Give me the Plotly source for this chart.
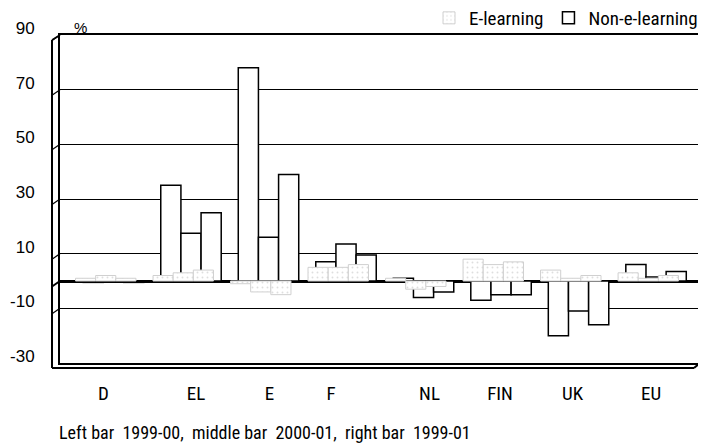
import plotly.graph_objects as go

categories = ["D", "EL", "E", "F", "NL", "FIN", "UK", "EU"]
years = ["1999-00", "2000-01", "1999-01"]

# Non-e-learning (back row)
non_el_1999_00 = [-0.5, 35, 78, 7, 1, -7, -20, 6]
non_el_2000_01 = [0.5, 17.5, 16, 13.5, -6, -5, -11, 1.5]
non_el_1999_01 = [-0.5, 25, 39, 9.5, -4, -5, -16, 3.5]

# E-learning (front row)
el_1999_00 = [1, 2, -1, 5, 1, 8, 4, 3]
el_2000_01 = [2, 3, -4, 5, -3, 6, 1, 1]
el_1999_01 = [1, 4, -5, 6, -2, 7, 2, 2]

y_ticks = [-30, -10, 10, 30, 50, 70, 90]
y_tick_labels = [str(v) for v in y_ticks]

NARROW = "Roboto Condensed, Liberation Sans Narrow, Arial Narrow, sans-serif"
REGULAR = "Liberation Sans, Arial, sans-serif"

fig = go.Figure()

bw = 0.26
back_offsets = [-0.39, -0.13, 0.13]
front_offsets = [o - 0.1 for o in back_offsets]

for j, vals in enumerate([non_el_1999_00, non_el_2000_01, non_el_1999_01]):
    fig.add_trace(go.Bar(
        x=categories, y=vals, name="Non-e-learning", legendgroup="non",
        showlegend=(j == 0), legendrank=2,
        offset=back_offsets[j], width=bw,
        marker=dict(color="white", line=dict(color="black", width=1.5)),
        hovertext=years[j],
    ))

for j, vals in enumerate([el_1999_00, el_2000_01, el_1999_01]):
    fig.add_trace(go.Bar(
        x=categories, y=vals, name="E-learning", legendgroup="el",
        showlegend=(j == 0), legendrank=1,
        offset=front_offsets[j], width=bw,
        marker=dict(color="white",
                    line=dict(color="#d0d0d0", width=1),
                    pattern=dict(shape=".", fgcolor="#bdbdbd", bgcolor="white",
                                 size=5, solidity=0.12)),
        hovertext=years[j],
    ))

# Page has an 8px body margin: the plot area lands at 60..700 x 35..363 px on screen.
def px2x(px):
    return (px - 60) / 640.0

def py2y(py):
    return (363 - py) / 328.0

shapes = []
line_k = dict(color="black", width=2)
# front left axis edge of the 3D box
shapes.append(dict(type="line", xref="paper", yref="paper",
                   x0=px2x(52), y0=py2y(40), x1=px2x(52), y1=py2y(368), line=line_k))
shapes.append(dict(type="line", xref="paper", yref="paper",
                   x0=px2x(52), y0=py2y(40), x1=px2x(60), y1=py2y(35),
                   line=dict(color="black", width=1.5)))
# front floor edge
shapes.append(dict(type="line", xref="paper", yref="paper",
                   x0=px2x(52), y0=py2y(368), x1=px2x(694), y1=py2y(368), line=line_k))
shapes.append(dict(type="line", xref="paper", yref="paper",
                   x0=px2x(694), y0=py2y(368), x1=px2x(700), y1=py2y(363), line=line_k))
# small diagonals on the side wall at each gridline
for t in y_ticks[1:] + [0]:
    shapes.append(dict(type="line", xref="paper", yref="y",
                       x0=px2x(52), y0=t - 2, x1=px2x(60), y1=t,
                       line=dict(color="black", width=1.2 if t else 2)))
fig.update_layout(shapes=shapes)

# category label nudges (px), as printed in the source
label_nudge_px = [-10, 5, 1, -15, 6, -1, -6, -5]
px_per_cat = 640 / (7.567 + 0.69)
tick_positions = [i + d / px_per_cat for i, d in enumerate(label_nudge_px)]

fig.update_layout(
    width=698, height=440,
    margin=dict(l=52, r=6, t=27, b=85, autoexpand=False),
    paper_bgcolor="white", plot_bgcolor="white",
    barmode="overlay",
    font=dict(family=NARROW, size=18, color="black"),
    showlegend=True,
    legend=dict(orientation="h", x=px2x(703), xanchor="right", y=py2y(18), yanchor="middle",
                font=dict(family=NARROW, size=19), bgcolor="rgba(0,0,0,0)", itemwidth=30,
                traceorder="normal"),
    xaxis=dict(range=[-0.69, 7.567], showgrid=False, showline=True, mirror=True,
               linecolor="black", linewidth=2, ticks="", ticklabelstandoff=12,
               tickmode="array", tickvals=tick_positions, ticktext=categories,
               tickfont=dict(family=NARROW, size=19)),
    yaxis=dict(range=[-30, 90], tickmode="array", tickvals=y_ticks, ticktext=y_tick_labels,
               showgrid=True, gridcolor="black",
               gridwidth=1, zeroline=True, zerolinecolor="black", zerolinewidth=2.5,
               showline=True, mirror=True, linecolor="black", linewidth=2,
               ticks="", ticklabelstandoff=20, ticklabelshift=-7,
               tickfont=dict(family=REGULAR, size=17)),
    annotations=[
        dict(text="%", xref="paper", yref="paper", x=px2x(72), y=py2y(17),
             showarrow=False, font=dict(family=REGULAR, size=15)),
        dict(text="Left bar  1999-00,  middle bar  2000-01,  right bar  1999-01",
             xref="paper", yref="paper", x=px2x(57), y=py2y(432), xanchor="left",
             yanchor="middle", showarrow=False, font=dict(family=NARROW, size=18)),
    ],
)

fig.write_html("out.html")
